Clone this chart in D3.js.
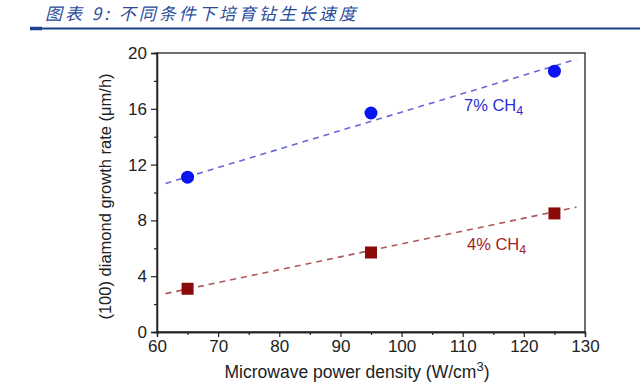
<!DOCTYPE html>
<html>
<head>
<meta charset="utf-8">
<script src="https://cdn.jsdelivr.net/npm/d3@7"></script>
<style>
  body { margin: 0; background: #fff; }
  svg text { font-family: "Liberation Sans", Arial, sans-serif; }
</style>
</head>
<body>
<div id="chart"></div>
<script>
const powerDensity = [65, 95, 125];
const rate7 = [11.1, 15.7, 18.7];
const rate4 = [3.1, 5.7, 8.5];
// dashed fit lines, endpoints
const fitX = [61.4, 128.6];
const fit7 = [10.65, 19.55];
const fit4 = [2.75, 8.95];
const xTicks = [60, 70, 80, 90, 100, 110, 120, 130];
const yTicks = [0, 4, 8, 12, 16, 20];

const width = 640, height = 387;
const margin = {left: 157, right: 55, top: 53, bottom: 55};

const svg = d3.select('#chart').append('svg')
  .attr('width', width)
  .attr('height', height);

// header
svg.append('text')
  .attr('x', 45)
  .attr('y', 20)
  .style('font-family', '"Noto Sans CJK SC", sans-serif')
  .style('font-style', 'italic')
  .style('font-size', '17px')
  .style('letter-spacing', '3px')
  .style('fill', '#2a4a9c')
  .text('图表 9:  不同条件下培育钻生长速度');
svg.append('line')
  .attr('x1', 30).attr('x2', width)
  .attr('y1', 28.5).attr('y2', 28.5)
  .style('stroke', '#1f3f8f')
  .style('stroke-width', 2);
svg.append('line')
  .attr('x1', 30).attr('x2', 42)
  .attr('y1', 28.5).attr('y2', 28.5)
  .style('stroke', '#1f3f8f')
  .style('stroke-width', 3.5);

const x = d3.scaleLinear().domain([60, 130]).range([margin.left, width - margin.right]);
const y = d3.scaleLinear().domain([0, 20]).range([height - margin.bottom, margin.top]);

const g = svg.append('g');

// frame
g.append('rect')
  .attr('x', x(60)).attr('y', y(20))
  .attr('width', x(130) - x(60)).attr('height', y(0) - y(20))
  .style('fill', 'none')
  .style('stroke', '#222')
  .style('stroke-width', 1.3);

const xAxis = g.append('g')
  .attr('transform', `translate(0, ${y(0)})`)
  .call(d3.axisBottom(x).tickValues(xTicks).tickSize(5).tickPadding(3));
const xMinor = g.append('g')
  .attr('transform', `translate(0, ${y(0)})`)
  .call(d3.axisBottom(x).tickValues(d3.range(65, 130, 10)).tickSize(3).tickFormat(''));
const yAxis = g.append('g')
  .attr('transform', `translate(${x(60)}, 0)`)
  .call(d3.axisLeft(y).tickValues(yTicks).tickSize(6).tickPadding(4));
const yMinor = g.append('g')
  .attr('transform', `translate(${x(60)}, 0)`)
  .call(d3.axisLeft(y).tickValues(d3.range(2, 20, 4)).tickSize(3).tickFormat(''));

[xAxis, xMinor, yAxis, yMinor].forEach(a => {
  a.select('.domain').style('stroke', '#222').style('stroke-width', 1.3);
  a.selectAll('.tick line').style('stroke', '#222').style('stroke-width', 1.2);
  a.selectAll('text').style('font-size', '17px').style('fill', '#222')
    .style('font-family', '"Liberation Sans", Arial, sans-serif');
});

// axis titles
svg.append('text')
  .attr('x', 357)
  .attr('y', 378)
  .attr('text-anchor', 'middle')
  .style('font-size', '17.5px')
  .style('fill', '#222')
  .html('Microwave power density (W/cm<tspan dy="-7" font-size="13px">3</tspan><tspan dy="7">)</tspan>');
svg.append('text')
  .attr('transform', `translate(111, ${(y(0) + y(20)) / 2 + 4}) rotate(-90)`)
  .attr('text-anchor', 'middle')
  .style('font-size', '16.5px')
  .style('fill', '#222')
  .text('(100) diamond growth rate (μm/h)');

// fit lines
const fitLine = d3.line().x(d => x(d[0])).y(d => y(d[1]));
g.append('path')
  .attr('d', fitLine(d3.zip(fitX, fit7)))
  .style('fill', 'none')
  .style('stroke', '#6b68d6')
  .style('stroke-width', 1.6)
  .style('stroke-dasharray', '6,5');
g.append('path')
  .attr('d', fitLine(d3.zip(fitX, fit4)))
  .style('fill', 'none')
  .style('stroke', '#b0575a')
  .style('stroke-width', 1.6)
  .style('stroke-dasharray', '6,5');

// points
g.append('g').selectAll('circle')
  .data(d3.zip(powerDensity, rate7))
  .enter()
  .append('circle')
  .attr('cx', d => x(d[0]))
  .attr('cy', d => y(d[1]))
  .attr('r', 6.5)
  .style('fill', '#0a14f0');
const sq = 12;
g.append('g').selectAll('rect')
  .data(d3.zip(powerDensity, rate4))
  .enter()
  .append('rect')
  .attr('x', d => x(d[0]) - sq / 2)
  .attr('y', d => y(d[1]) - sq / 2)
  .attr('width', sq)
  .attr('height', sq)
  .style('fill', '#8b0a0a');

// series labels
g.append('text')
  .attr('x', 464).attr('y', 111)
  .style('font-size', '16.5px')
  .style('fill', '#2b2fd0')
  .html('7% CH<tspan dy="4" font-size="12.5px">4</tspan>');
g.append('text')
  .attr('x', 467).attr('y', 250)
  .style('font-size', '16.5px')
  .style('fill', '#a52222')
  .html('4% CH<tspan dy="4" font-size="12.5px">4</tspan>');
</script>
</body>
</html>
